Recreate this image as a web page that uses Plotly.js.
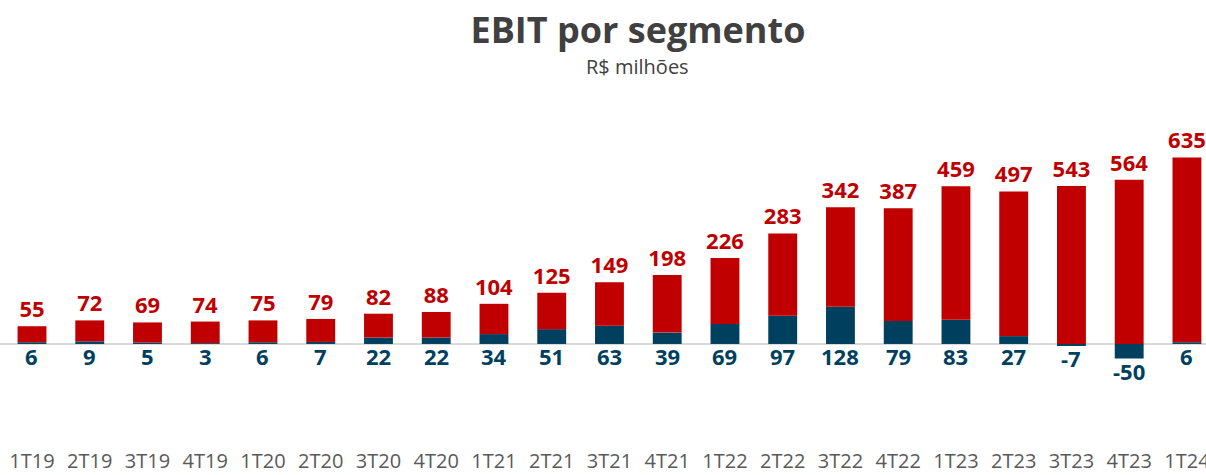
<!DOCTYPE html>
<html>
<head>
<meta charset="utf-8">
<script src="https://cdn.plot.ly/plotly-3.0.1.min.js"></script>
<style>html,body{margin:0;padding:0;background:#fff;}#chart{width:1206px;height:475px;}</style>
</head>
<body>
<div id="chart"></div>
<script>
const categories = ["1T19","2T19","3T19","4T19","1T20","2T20","3T20","4T20","1T21","2T21","3T21","4T21","1T22","2T22","3T22","4T22","1T23","2T23","3T23","4T23","1T24"];
const redValues = [55,72,69,74,75,79,82,88,104,125,149,198,226,283,342,387,459,497,543,564,635];
const blueValues = [6,9,5,3,6,7,22,22,34,51,63,39,69,97,128,79,83,27,-7,-50,6];
const titleText = "EBIT por segmento";
const subtitleText = "R$ milhões";

const RED = "#C00000";
const BLUE = "#00405F";
const FONT = "'Open Sans', 'Noto Sans', sans-serif";

const traces = [
  {
    type: "bar", x: categories, y: blueValues,
    marker: {color: BLUE}, hoverinfo: "skip", showlegend: false
  },
  {
    type: "bar", x: categories, y: redValues,
    marker: {color: RED}, hoverinfo: "skip", showlegend: false,
    text: redValues.map(String), textposition: "outside", constraintext: "none",
    cliponaxis: false,
    outsidetextfont: {family: FONT, size: 22, color: RED, weight: "bold"}
  }
];

const blueAnnotations = categories.map((c, i) => ({
  x: c, y: Math.min(0, blueValues[i]), xref: "x", yref: "y",
  text: String(blueValues[i]), showarrow: false,
  xanchor: "center", yanchor: "top", yshift: 5,
  font: {family: FONT, size: 22, color: BLUE, weight: "bold"}
}));

const layout = {
  width: 1206, height: 475,
  margin: {l: 0, r: 0, t: 80, b: 28},
  paper_bgcolor: "#fff", plot_bgcolor: "#fff",
  barmode: "relative", bargap: 0.5,
  font: {family: FONT},
  title: {
    text: "<b>" + titleText + "</b>",
    font: {family: FONT, size: 36, color: "#404040"},
    x: 0.529, xanchor: "center", xref: "paper",
    y: 0.935, yanchor: "middle", yref: "container"
  },
  annotations: [{
    text: subtitleText, showarrow: false,
    xref: "paper", yref: "paper", x: 0.529, y: 1.038,
    xanchor: "center", yanchor: "middle",
    font: {family: FONT, size: 20, color: "#404040"}
  }].concat(blueAnnotations),
  xaxis: {
    type: "category", range: [-0.554, 20.33],
    showgrid: false, zeroline: false, showline: false, ticks: "",
    tickfont: {family: FONT, size: 20, color: "#595959"},
    fixedrange: true
  },
  yaxis: {
    range: [-354, 907], showgrid: false, showticklabels: false,
    zeroline: true, zerolinecolor: "#D9D9D9", zerolinewidth: 2,
    showline: false, ticks: "", fixedrange: true
  }
};

Plotly.newPlot("chart", traces, layout, {displayModeBar: false, staticPlot: true});
</script>
</body>
</html>
